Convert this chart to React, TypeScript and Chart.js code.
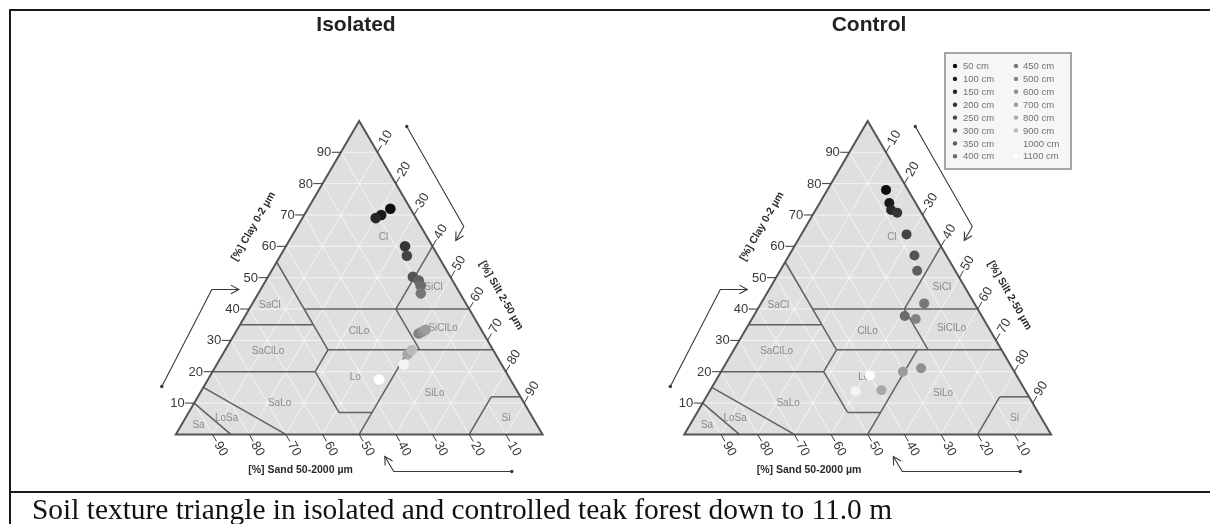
import React, { useEffect, useRef } from 'react';
import { Chart, registerables } from 'chart.js';

Chart.register(...registerables);

// ---------- data ----------
const DEPTHS = ['50 cm', '100 cm', '150 cm', '200 cm', '250 cm', '300 cm', '350 cm', '400 cm',
  '450 cm', '500 cm', '600 cm', '700 cm', '800 cm', '900 cm', '1000 cm', '1100 cm'];
const DEPTH_COLORS = ['#0d0d0d', '#1a1a1a', '#272727', '#353535', '#444444', '#525252', '#5f5f5f', '#6b6b6b',
  '#777777', '#838383', '#8f8f8f', '#9b9b9b', '#a8a8a8', '#bababa', '#f4f4f4', '#ffffff'];

// clay % and silt % per depth (sand = 100 - clay - silt)
const ISOLATED_CLAY = [72, 70, 69, 60, 57, 50.3, 49.1, 47.5, 45, 32.2, 32.8, 33.4, 25.6, 26.9, 22.3, 17.5];
const ISOLATED_SILT = [22.5, 21, 20, 32.5, 34.5, 39.5, 41.7, 43, 44.3, 50.1, 50.9, 51.4, 50.4, 50.9, 51, 46.7];
const CONTROL_CLAY = [78, 73.8, 71.6, 70.7, 63.8, 57.1, 52.2, 37.8, 41.8, 36.8, 21.1, 20, 14.1, null, 13.8, 18.8];
const CONTROL_SILT = [16, 19, 20.6, 22.7, 28.7, 34.2, 37.4, 41.2, 44.5, 44.7, 54, 49.6, 46.7, null, 39.8, 41.2];

const TICKS = [10, 20, 30, 40, 50, 60, 70, 80, 90];

const REGION_NAMES = ['Cl', 'SiCl', 'SaCl', 'ClLo', 'SiClLo', 'SaClLo', 'Lo', 'SiLo', 'SaLo', 'LoSa', 'Sa', 'Si'];
const REGION_CLAY = [63, 46.9, 41.3, 32.9, 33.8, 26.5, 18.3, 13.1, 10, 5.1, 3, 5.1];
const REGION_SILT = [25.1, 46.8, 5, 33.5, 56, 11.9, 39.8, 64, 23.3, 11.3, 4.7, 87.5];

// texture class boundaries: [clay1, silt1, clay2, silt2]
const BOUNDARIES = [
  [0, 15, 10, 0],
  [0, 30, 15, 0],
  [20, 0, 20, 28],
  [20, 28, 7, 41],
  [7, 41, 7, 50],
  [0, 50, 27, 50],
  [20, 28, 27, 28],
  [27, 28, 55, 0],
  [35, 0, 35, 20],
  [27, 28, 27, 73],
  [40, 15, 40, 60],
  [27, 53, 40, 40],
  [40, 40, 60, 40],
  [0, 80, 12, 80],
  [12, 80, 12, 88],
];

// ---------- layout ----------
const CANVAS_W = 1210;
const CANVAS_H = 524;
const BASE_Y = 438;
const LEFT_X = 172;
const RIGHT_X = 685;
const PX_X = 3.7;
const PX_Y = 3.2;

const SANS = '"Liberation Sans", Arial, sans-serif';
const SERIF = '"Liberation Serif", "Times New Roman", serif';

function buildPoints(clay: (number | null)[], silt: (number | null)[]) {
  const pts: any[] = [];
  const colors: string[] = [];
  clay.forEach((c, i) => {
    const s = silt[i];
    if (c == null || s == null) return;
    pts.push({ x: s + c / 2, y: c });
    colors.push(DEPTH_COLORS[i]);
  });
  return { pts, colors };
}

function seg(ctx: CanvasRenderingContext2D, a: any, b: any) {
  ctx.beginPath();
  ctx.moveTo(a.x, a.y);
  ctx.lineTo(b.x, b.y);
  ctx.stroke();
}

function rotText(ctx: CanvasRenderingContext2D, text: string, x: number, y: number, ang: number, align: CanvasTextAlign) {
  ctx.save();
  ctx.translate(x, y);
  ctx.rotate(ang);
  ctx.textAlign = align;
  ctx.textBaseline = 'middle';
  ctx.fillText(text, 0, 0);
  ctx.restore();
}

function arrow(ctx: CanvasRenderingContext2D, pts: number[][], ox: number, oy: number) {
  const p = pts.map((q) => ({ x: ox + q[0], y: oy + q[1] }));
  ctx.save();
  ctx.strokeStyle = '#3a3a3a';
  ctx.fillStyle = '#3a3a3a';
  ctx.lineWidth = 1.1;
  ctx.beginPath();
  ctx.moveTo(p[0].x, p[0].y);
  for (let i = 1; i < p.length; i++) ctx.lineTo(p[i].x, p[i].y);
  ctx.stroke();
  ctx.beginPath();
  ctx.arc(p[0].x, p[0].y, 1.7, 0, Math.PI * 2);
  ctx.fill();
  const e = p[p.length - 1];
  const s = p[p.length - 2];
  const ang = Math.atan2(e.y - s.y, e.x - s.x);
  const L = 9;
  ctx.beginPath();
  ctx.moveTo(e.x - L * Math.cos(ang - 0.5), e.y - L * Math.sin(ang - 0.5));
  ctx.lineTo(e.x, e.y);
  ctx.lineTo(e.x - L * Math.cos(ang + 0.5), e.y - L * Math.sin(ang + 0.5));
  ctx.stroke();
  ctx.restore();
}

const ARROWS = [
  [[-14, -48], [36, -145], [63, -145]],
  [[231, -308], [288, -208], [280, -194]],
  [[336, 37], [218, 37], [209, 22]],
];

function drawTernary(ctx: CanvasRenderingContext2D, P: (c: number, s: number) => any) {
  const A = P(0, 0);
  const B = P(0, 100);
  const C = P(100, 0);
  ctx.save();
  ctx.beginPath();
  ctx.moveTo(A.x, A.y);
  ctx.lineTo(B.x, B.y);
  ctx.lineTo(C.x, C.y);
  ctx.closePath();
  ctx.fillStyle = '#dfdfdf';
  ctx.fill();

  ctx.save();
  ctx.clip();
  ctx.strokeStyle = 'rgba(255,255,255,0.65)';
  ctx.lineWidth = 1;
  for (const v of TICKS) {
    seg(ctx, P(v, 0), P(v, 100 - v));
    seg(ctx, P(0, v), P(100 - v, v));
    seg(ctx, P(0, 100 - v), P(100 - v, 0));
  }
  ctx.restore();

  ctx.strokeStyle = '#606060';
  ctx.lineWidth = 1.5;
  BOUNDARIES.forEach((b) => seg(ctx, P(b[0], b[1]), P(b[2], b[3])));

  ctx.beginPath();
  ctx.moveTo(A.x, A.y);
  ctx.lineTo(B.x, B.y);
  ctx.lineTo(C.x, C.y);
  ctx.closePath();
  ctx.strokeStyle = '#555555';
  ctx.lineWidth = 2;
  ctx.stroke();

  // region labels
  ctx.fillStyle = '#8a8a8a';
  ctx.font = `10px ${SANS}`;
  ctx.textAlign = 'center';
  ctx.textBaseline = 'middle';
  REGION_NAMES.forEach((n, i) => {
    const p = P(REGION_CLAY[i], REGION_SILT[i]);
    ctx.fillText(n, p.x, p.y);
  });

  // ticks
  ctx.fillStyle = '#383838';
  ctx.strokeStyle = '#383838';
  ctx.lineWidth = 1;
  ctx.font = `13px ${SANS}`;
  const c60 = Math.cos(Math.PI / 3);
  const s60 = Math.sin(Math.PI / 3);
  for (const v of TICKS) {
    const p = P(v, 0);
    seg(ctx, p, { x: p.x - 9, y: p.y });
    ctx.textAlign = 'right';
    ctx.textBaseline = 'middle';
    ctx.fillText(String(v), p.x - 9.5, p.y + 0.5);

    const q = P(100 - v, v);
    seg(ctx, q, { x: q.x + 8 * c60, y: q.y - 8 * s60 });
    rotText(ctx, String(v), q.x + 9.5 * c60, q.y - 9.5 * s60, -Math.PI / 3, 'left');

    const r = P(0, 100 - v);
    seg(ctx, r, { x: r.x + 8 * c60, y: r.y + 8 * s60 });
    rotText(ctx, String(v), r.x + 9.5 * c60, r.y + 9.5 * s60, Math.PI / 3, 'left');
  }

  // axis titles
  ctx.fillStyle = '#2a2a2a';
  ctx.font = `bold 10.5px ${SANS}`;
  const ce = P(60.3, 0);
  rotText(ctx, '[%] Clay 0-2 µm', ce.x - 0.866 * 38, ce.y - 0.5 * 38, -Math.PI / 3, 'center');
  const se = P(38.8, 61.2);
  rotText(ctx, '[%] Silt 2-50 µm', se.x + 0.866 * 34.5, se.y - 0.5 * 34.5, Math.PI / 3, 'center');
  const sa = P(0, 34);
  rotText(ctx, '[%] Sand 50-2000 µm', sa.x, sa.y + 36, 0, 'center');

  ARROWS.forEach((a) => arrow(ctx, a, A.x, A.y));
  ctx.restore();
}

const ternaryPlugin = {
  id: 'ternaryPlugin',
  beforeDatasetsDraw(chart: any) {
    const ctx = chart.ctx as CanvasRenderingContext2D;
    const ys = chart.scales.y;
    ['xL', 'xR'].forEach((id) => {
      const xs = chart.scales[id];
      const P = (clay: number, silt: number) => ({
        x: xs.getPixelForValue(silt + clay / 2),
        y: ys.getPixelForValue(clay),
      });
      drawTernary(ctx, P);
    });
  },
  afterDraw(chart: any) {
    const ctx = chart.ctx as CanvasRenderingContext2D;
    ctx.save();
    // titles
    ctx.fillStyle = '#222';
    ctx.font = `bold 21px ${SANS}`;
    ctx.textAlign = 'center';
    ctx.textBaseline = 'middle';
    ctx.fillText('Isolated', 356, 25);
    ctx.fillText('Control', 869, 25);

    // legend
    ctx.fillStyle = '#f6f6f6';
    ctx.fillRect(945, 53, 126, 116);
    ctx.strokeStyle = '#8a8a8a';
    ctx.lineWidth = 1.5;
    ctx.strokeRect(945, 53, 126, 116);
    ctx.font = `9.5px ${SANS}`;
    ctx.textAlign = 'left';
    DEPTHS.forEach((d, i) => {
      const col = i < 8 ? 0 : 1;
      const row = i % 8;
      const dx = col === 0 ? 955 : 1016;
      const y = 66 + row * 12.9;
      ctx.fillStyle = DEPTH_COLORS[i];
      ctx.beginPath();
      ctx.arc(dx, y, 2.2, 0, Math.PI * 2);
      ctx.fill();
      ctx.fillStyle = '#707070';
      ctx.fillText(d, col === 0 ? 963 : 1023, y + 0.5);
    });

    // table lines
    ctx.strokeStyle = '#1a1a1a';
    ctx.lineWidth = 2;
    seg(ctx, { x: 9, y: 10 }, { x: CANVAS_W, y: 10 });
    seg(ctx, { x: 10, y: 9 }, { x: 10, y: CANVAS_H });
    seg(ctx, { x: 9, y: 492 }, { x: CANVAS_W, y: 492 });

    // caption
    ctx.fillStyle = '#111';
    ctx.font = `29.4px ${SERIF}`;
    ctx.textAlign = 'left';
    ctx.textBaseline = 'alphabetic';
    ctx.fillText('Soil texture triangle in isolated and controlled teak forest down to 11.0 m', 32, 519);
    ctx.restore();
  },
};

export default function App() {
  const ref = useRef<HTMLCanvasElement>(null);
  useEffect(() => {
    if (!ref.current) return;
    const iso = buildPoints(ISOLATED_CLAY, ISOLATED_SILT);
    const ctl = buildPoints(CONTROL_CLAY, CONTROL_SILT);
    const chart = new Chart(ref.current, {
      type: 'scatter',
      data: {
        datasets: [
          {
            label: 'Isolated',
            data: iso.pts,
            xAxisID: 'xL',
            yAxisID: 'y',
            backgroundColor: iso.colors,
            pointBackgroundColor: iso.colors,
            pointBorderWidth: 0,
            pointRadius: 5.3,
            pointHoverRadius: 5.3,
          },
          {
            label: 'Control',
            data: ctl.pts,
            xAxisID: 'xR',
            yAxisID: 'y',
            backgroundColor: ctl.colors,
            pointBackgroundColor: ctl.colors,
            pointBorderWidth: 0,
            pointRadius: 5,
            pointHoverRadius: 5,
          },
        ],
      },
      options: {
        animation: false,
        responsive: false,
        maintainAspectRatio: false,
        events: [],
        layout: { padding: 0 },
        plugins: {
          legend: { display: false },
          tooltip: { enabled: false },
          title: { display: false },
        },
        scales: {
          xL: { type: 'linear', display: false, min: -LEFT_X / PX_X, max: (CANVAS_W - LEFT_X) / PX_X },
          xR: { type: 'linear', display: false, min: -RIGHT_X / PX_X, max: (CANVAS_W - RIGHT_X) / PX_X },
          y: { type: 'linear', display: false, min: (BASE_Y - CANVAS_H) / PX_Y, max: BASE_Y / PX_Y },
        },
      } as any,
      plugins: [ternaryPlugin as any],
    });
    return () => chart.destroy();
  }, []);
  return (
    <canvas
      ref={ref}
      width={CANVAS_W}
      height={CANVAS_H}
      style={{ position: 'absolute', left: 0, top: 0, width: CANVAS_W, height: CANVAS_H, background: '#fff' }}
    />
  );
}
